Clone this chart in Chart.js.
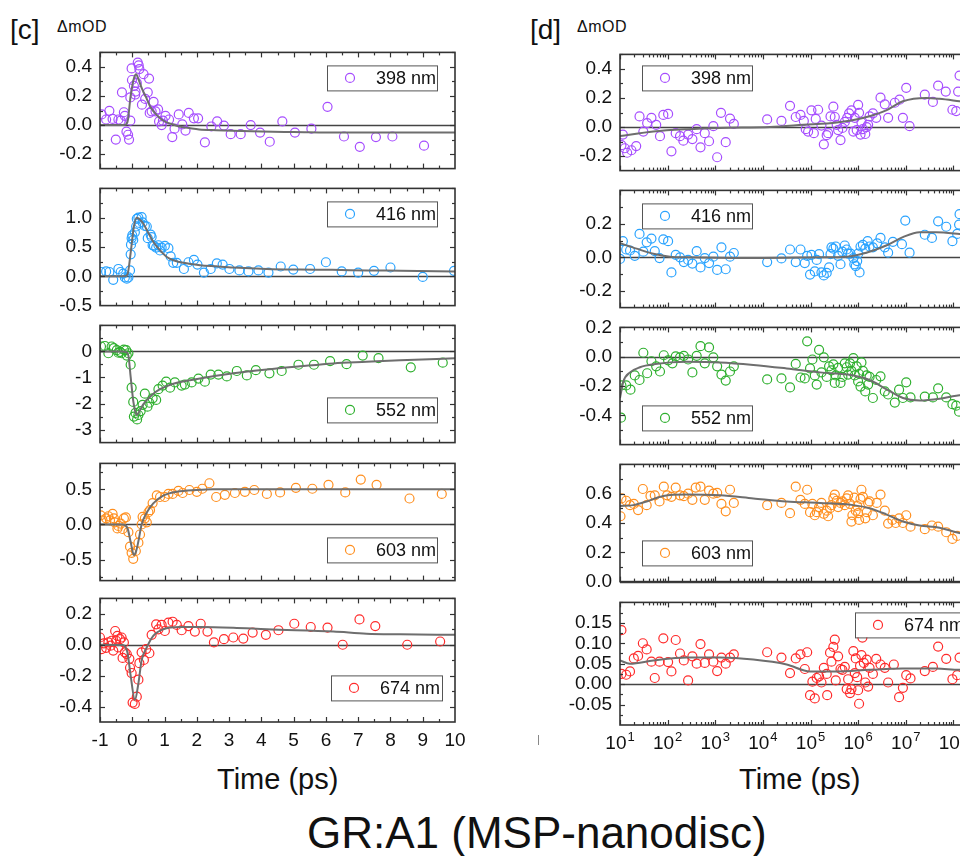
<!DOCTYPE html>
<html>
<head>
<meta charset="utf-8">
<script src="https://cdn.jsdelivr.net/npm/chart.js@4.4.1/dist/chart.umd.min.js"></script>
<style>
  html, body { margin:0; padding:0; background:#fff; overflow:hidden; }
  #wrap { position:relative; width:960px; height:856px; overflow:hidden; font-family:'Liberation Sans', Arial, sans-serif; color:#111; }
  .lbl { position:absolute; white-space:nowrap; line-height:1; }
</style>
</head>
<body>
<div id="wrap">
  <div class="lbl" style="left:10px;top:16px;font-size:28px">[c]</div>
  <div class="lbl" style="left:57px;top:19px;font-size:16px;letter-spacing:0.5px">ΔmOD</div>
  <div class="lbl" style="left:530px;top:16px;font-size:28px">[d]</div>
  <div class="lbl" style="left:577px;top:19px;font-size:16px;letter-spacing:0.5px">ΔmOD</div>
  <div class="lbl" style="left:217px;top:765px;font-size:29px">Time (ps)</div>
  <div class="lbl" style="left:739px;top:765px;font-size:29px">Time (ps)</div>
  <div class="lbl" style="left:307px;top:811px;font-size:44px">GR:A1 (MSP-nanodisc)</div>
  <div style="position:absolute;left:538px;top:735px;width:1px;height:10px;background:#888"></div>
</div>
<script>
// ── Axis ticks ───────────────────────────────────────────────
const cXTicks = [-1,0,1,2,3,4,5,6,7,8,9,10];
const dXTicks = [1e1,1e2,1e3,1e4,1e5,1e6,1e7,1e8];
const dXExp   = ['1','2','3','4','5','6','7','8'];

const c398YTicks = [-0.2,0,0.2,0.4];
const c416YTicks = [-0.5,0,0.5,1.0];
const c552YTicks = [-3,-2,-1,0];
const c603YTicks = [-0.5,0,0.5];
const c674YTicks = [-0.4,-0.2,0,0.2];
const d398YTicks = [-0.2,0,0.2,0.4];
const d416YTicks = [-0.2,0,0.2];
const d552YTicks = [-0.4,-0.2,0,0.2];
const d603YTicks = [0,0.2,0.4,0.6];
const d674YTicks = [-0.05,0,0.05,0.1,0.15];

const waves = ['398 nm','416 nm','552 nm','603 nm','674 nm'];

// ── [c] linear time (ps) ─────────────────────────────────────
const c398X = [-0.95,-0.81,-0.71,-0.61,-0.51,-0.43,-0.32,-0.36,-0.26,-0.23,-0.18,-0.13,-0.10,-0.06,-0.06,-0.02,-0.01,0.05,0.09,0.10,0.14,0.17,0.20,0.22,0.30,0.35,0.40,0.48,0.52,0.54,0.66,0.60,0.72,0.80,0.83,0.91,0.95,1.03,1.14,1.24,1.31,1.44,1.55,1.65,1.75,1.91,2.04,2.25,2.45,2.63,2.84,3.05,3.36,3.67,3.96,4.26,4.65,5.04,5.55,6.05,6.56,7.05,7.55,8.06,9.04];
const c398Y = [0.073,0.038,0.098,0.042,-0.100,0.038,0.225,0.030,0.088,0.063,-0.046,-0.067,-0.100,0.030,0.190,0.390,0.310,0.270,0.210,0.230,0.290,0.430,0.410,0.385,0.140,0.350,0.180,0.225,0.320,0.083,0.160,0.094,0.094,0.108,0.025,0.000,0.030,0.063,0.038,-0.083,-0.025,0.073,0.004,-0.038,0.083,0.046,0.046,-0.119,-0.010,0.025,-0.004,-0.063,-0.063,0.000,-0.052,-0.115,0.025,-0.052,-0.025,0.125,-0.079,-0.150,-0.083,-0.079,-0.142];
const c398FitX = [-1,-0.25,-0.15,-0.05,0.05,0.12,0.2,0.3,0.43,0.55,0.74,0.9,1.05,1.25,1.46,1.8,2.07,2.6,3.1,4.0,5.0,6.5,8.0,10];
const c398FitY = [0,0,0.02,0.2,0.32,0.35,0.31,0.25,0.19,0.13,0.073,0.04,0.02,0.005,-0.01,-0.022,-0.03,-0.036,-0.04,-0.045,-0.048,-0.052,-0.052,-0.052];

const c416X = [-0.97,-0.81,-0.71,-0.59,-0.43,-0.36,-0.28,-0.23,-0.17,-0.12,-0.07,-0.05,-0.04,-0.02,0.00,0.03,0.08,0.12,0.14,0.19,0.22,0.29,0.32,0.39,0.45,0.48,0.57,0.60,0.63,0.67,0.74,0.81,0.86,0.91,1.01,1.12,1.19,1.27,1.38,1.60,1.74,1.91,2.02,2.22,2.43,2.62,2.80,3.01,3.32,3.60,3.91,4.22,4.60,4.99,5.51,6.00,6.49,7.00,7.49,8.00,9.00,9.97];
const c416Y = [0.073,0.083,0.073,-0.060,0.125,0.073,0.047,-0.020,-0.040,-0.020,0.100,0.375,0.540,0.650,0.700,0.620,0.750,0.850,0.980,1.000,0.910,1.010,0.920,0.860,0.850,0.650,0.710,0.670,0.530,0.520,0.490,0.530,0.440,0.490,0.520,0.480,0.340,0.230,0.230,0.125,0.240,0.280,0.200,0.063,0.125,0.220,0.200,0.125,0.100,0.083,0.100,0.063,0.167,0.115,0.125,0.240,0.083,0.063,0.094,0.150,-0.010,0.094];
const c416FitX = [-1,-0.25,-0.15,-0.05,0.05,0.14,0.25,0.34,0.5,0.65,0.85,1.07,1.3,1.58,2.1,2.6,3.13,4.17,5.2,6.2,7.3,8.3,10];
const c416FitY = [0,0,0.03,0.4,0.85,1.0,0.96,0.9,0.74,0.59,0.45,0.33,0.27,0.23,0.19,0.17,0.15,0.125,0.115,0.11,0.1,0.095,0.083];

const c552X = [-0.97,-0.85,-0.74,-0.64,-0.57,-0.48,-0.43,-0.38,-0.33,-0.26,-0.19,-0.17,-0.12,-0.05,-0.02,0.03,0.05,0.10,0.15,0.19,0.26,0.32,0.39,0.47,0.53,0.63,0.74,0.81,0.94,1.05,1.17,1.32,1.53,1.63,1.84,2.05,2.25,2.43,2.67,2.93,3.24,3.55,3.83,4.25,4.63,5.15,5.63,6.13,6.64,7.14,7.63,8.63,9.62];
const c552Y = [0.19,0.21,-0.07,0.19,0.13,0.05,-0.05,-0.02,-0.07,0.07,0.05,-0.16,-0.07,-0.51,-1.39,-1.94,-2.50,-2.36,-2.61,-2.44,-2.29,-2.05,-1.62,-2.12,-1.97,-1.80,-1.86,-1.45,-1.31,-1.16,-1.39,-1.19,-1.31,-1.27,-1.19,-1.04,-1.16,-0.89,-0.89,-0.96,-0.75,-0.92,-0.72,-0.84,-0.75,-0.51,-0.51,-0.37,-0.49,-0.16,-0.26,-0.61,-0.43];
const c552FitX = [-1,-0.3,-0.2,-0.12,-0.05,0.03,0.09,0.14,0.22,0.34,0.6,0.86,1.27,2.1,3.13,4.17,5.2,6.23,7.26,8.3,10];
const c552FitY = [0,0,-0.02,-0.16,-0.98,-1.9,-2.3,-2.44,-2.3,-2.03,-1.68,-1.45,-1.24,-1.04,-0.84,-0.69,-0.57,-0.46,-0.4,-0.34,-0.26];

const c603X = [-0.98,-0.92,-0.81,-0.74,-0.69,-0.61,-0.57,-0.54,-0.46,-0.43,-0.36,-0.30,-0.26,-0.20,-0.12,-0.07,-0.02,0.03,0.11,0.19,0.24,0.29,0.32,0.39,0.45,0.50,0.55,0.63,0.76,0.86,1.01,1.12,1.25,1.43,1.56,1.77,2.00,2.17,2.39,2.60,2.87,3.18,3.49,3.78,4.17,4.58,5.07,5.58,6.08,6.60,7.08,7.57,8.59,9.59];
const c603Y = [0.130,0.057,0.087,0.117,0.057,0.152,0.087,0.030,-0.057,-0.022,0.013,-0.065,0.087,0.100,-0.110,-0.317,-0.404,-0.490,-0.378,-0.260,-0.143,0.000,0.109,0.087,0.030,0.174,0.204,0.304,0.413,0.391,0.391,0.435,0.435,0.478,0.448,0.491,0.465,0.509,0.587,0.391,0.422,0.448,0.465,0.491,0.435,0.457,0.522,0.509,0.565,0.457,0.639,0.565,0.370,0.435];
const c603FitX = [-1,-0.3,-0.15,-0.05,0.05,0.12,0.19,0.29,0.45,0.65,0.96,1.38,2.0,2.5,4,6,8,10];
const c603FitY = [0,0,-0.05,-0.25,-0.435,-0.38,-0.24,0,0.17,0.3,0.41,0.465,0.49,0.5,0.5,0.5,0.5,0.5];

const c674X = [-1.00,-0.95,-0.88,-0.81,-0.74,-0.67,-0.64,-0.59,-0.53,-0.50,-0.46,-0.43,-0.38,-0.33,-0.30,-0.26,-0.23,-0.17,-0.09,-0.07,-0.02,0.01,0.08,0.14,0.19,0.22,0.29,0.36,0.43,0.53,0.60,0.74,0.81,0.91,1.01,1.12,1.25,1.38,1.53,1.74,1.94,2.12,2.33,2.53,2.84,3.13,3.44,3.73,4.14,4.53,5.02,5.53,6.05,6.52,7.04,7.53,8.52,9.54];
const c674Y = [0.047,-0.028,0.009,-0.020,0.015,-0.006,0.026,-0.038,0.089,0.026,0.057,-0.017,0.036,0.047,-0.085,0.015,-0.049,-0.060,-0.091,-0.149,-0.183,-0.374,-0.383,-0.336,-0.226,-0.119,-0.049,-0.098,-0.028,-0.055,0.064,0.132,0.100,0.128,0.089,0.143,0.149,0.128,0.094,0.121,0.085,0.136,0.085,0.015,0.036,0.047,0.040,0.079,0.064,0.094,0.136,0.115,0.111,0.000,0.164,0.121,0.000,0.021];
const c674FitX = [-1,-0.3,-0.15,-0.05,0.08,0.19,0.29,0.45,0.65,0.96,1.48,2.1,3.13,4.17,6.23,7.26,8.3,10];
const c674FitY = [0,-0.002,-0.05,-0.2,-0.357,-0.25,-0.1,-0.017,0.057,0.1,0.115,0.115,0.11,0.1,0.085,0.072,0.068,0.064];

// ── [d] log time, stored as log10(t / ps) ───────────────────
const d398E = [1.06,1.03,1.10,1.15,1.24,1.34,1.41,1.49,1.57,1.66,1.76,1.84,1.91,2.01,2.08,2.17,2.26,2.33,2.43,2.52,2.61,2.69,2.78,2.87,2.96,3.04,3.12,3.22,3.31,3.39,4.09,4.39,4.57,4.69,4.79,4.86,4.90,4.95,5.02,5.07,5.11,5.16,5.23,5.28,5.34,5.37,5.42,5.48,5.51,5.55,5.58,5.63,5.67,5.72,5.77,5.81,5.86,5.90,5.93,5.97,6.00,6.02,6.05,6.07,6.10,6.15,6.18,6.21,6.24,6.31,6.38,6.47,6.56,6.63,6.77,6.87,6.94,7.01,7.08,7.40,7.57,7.68,7.84,7.98,8.06,8.10,8.13];
const d398Y = [-0.052,-0.125,-0.146,-0.177,-0.160,-0.131,0.073,-0.031,0.027,0.063,0.015,-0.063,0.083,0.090,-0.167,-0.042,-0.063,-0.094,-0.052,-0.083,-0.015,-0.140,-0.042,-0.098,0.006,-0.208,0.098,-0.104,0.058,0.021,0.052,0.042,0.146,0.069,0.083,0.042,-0.015,-0.031,0.115,-0.042,0.056,0.119,0.010,-0.119,-0.056,-0.042,0.073,0.140,0.069,0.015,-0.021,-0.090,-0.006,0.035,0.063,0.094,0.115,-0.031,0.063,-0.021,0.152,0.098,-0.052,0.031,-0.015,-0.048,0.000,0.015,0.073,0.094,0.063,0.202,0.156,0.063,0.167,0.188,0.063,0.270,0.006,0.223,0.173,0.285,0.244,0.119,0.110,0.244,0.354];
const d398FitE = [1.0,1.7,2.4,3.1,4.15,4.85,5.55,6.1,6.59,6.94,7.43,7.71,8.13,8.3];
const d398FitY = [-0.0625,-0.031,-0.015,-0.006,0,0.015,0.031,0.0625,0.115,0.177,0.2,0.194,0.177,0.17];

const d416E = [1.00,1.06,1.13,1.21,1.31,1.41,1.49,1.56,1.66,1.73,1.83,1.91,2.01,2.08,2.17,2.26,2.34,2.43,2.52,2.61,2.69,2.78,2.87,2.96,3.04,3.13,3.22,3.31,3.39,4.09,4.39,4.57,4.69,4.79,4.88,4.93,4.99,5.02,5.09,5.13,5.18,5.23,5.28,5.34,5.39,5.42,5.44,5.48,5.53,5.58,5.63,5.67,5.72,5.76,5.79,5.84,5.90,5.92,5.95,5.98,6.00,6.03,6.05,6.10,6.15,6.20,6.24,6.31,6.40,6.47,6.56,6.63,6.73,6.92,6.99,7.08,7.40,7.55,7.68,7.85,7.98,8.08,8.12,8.13];
const d416Y = [-0.009,0.097,0.047,0.041,0.009,0.140,0.034,0.090,0.112,0.037,-0.004,0.108,0.097,-0.090,0.015,0.000,-0.028,-0.015,-0.037,0.037,-0.060,-0.004,-0.034,0.004,-0.075,0.060,-0.071,0.004,0.026,-0.028,-0.006,0.047,-0.028,0.047,-0.034,0.009,-0.103,0.015,-0.084,-0.015,0.019,-0.090,-0.108,-0.093,-0.060,0.019,0.060,0.052,0.065,0.009,-0.041,0.034,0.071,0.047,0.022,0.022,-0.004,-0.041,-0.052,-0.022,0.022,-0.090,0.065,0.075,0.052,0.097,0.065,0.060,0.084,0.116,0.060,0.028,0.093,0.079,0.220,0.028,0.135,0.116,0.215,0.183,0.097,0.140,0.196,0.258];
const d416FitE = [1.0,1.35,1.7,2.05,2.4,3.8,5.2,5.76,6.17,6.59,6.94,7.29,7.64,8.13,8.3];
const d416FitY = [0.084,0.052,0.022,0.004,0,-0.004,0,0.004,0.028,0.071,0.121,0.15,0.15,0.14,0.135];

const d552E = [1.02,1.03,1.13,1.22,1.31,1.41,1.49,1.57,1.66,1.76,1.84,1.92,2.01,2.10,2.17,2.26,2.34,2.43,2.52,2.61,2.69,2.78,2.87,2.96,3.04,3.13,3.22,3.31,3.39,4.09,4.39,4.57,4.69,4.79,4.88,4.93,4.99,5.04,5.09,5.13,5.18,5.23,5.28,5.34,5.39,5.44,5.48,5.51,5.53,5.58,5.63,5.67,5.72,5.76,5.79,5.83,5.86,5.90,5.93,5.97,6.00,6.02,6.05,6.07,6.10,6.15,6.18,6.21,6.24,6.31,6.38,6.47,6.56,6.63,6.77,6.86,6.94,7.01,7.10,7.40,7.57,7.68,7.85,7.98,8.06,8.12];
const d552Y = [-0.416,-0.196,-0.196,-0.225,-0.128,-0.159,0.027,-0.113,-0.031,-0.066,-0.101,0.010,-0.025,-0.045,0.002,-0.004,0.006,-0.019,-0.107,0.006,0.072,-0.045,0.064,-0.004,-0.066,-0.122,-0.163,-0.101,-0.066,-0.155,-0.148,-0.210,-0.049,-0.142,-0.148,0.105,-0.080,-0.019,-0.128,-0.190,0.047,-0.107,-0.004,-0.138,-0.066,-0.093,-0.052,-0.179,-0.128,-0.076,-0.179,-0.138,-0.045,-0.072,-0.122,-0.045,-0.097,-0.010,-0.128,-0.066,-0.169,-0.118,-0.204,-0.039,-0.097,-0.237,-0.128,-0.190,-0.138,-0.282,-0.159,-0.134,-0.237,-0.258,-0.313,-0.225,-0.282,-0.175,-0.278,-0.272,-0.278,-0.216,-0.278,-0.324,-0.334,-0.375];
const d552FitE = [1.0,1.07,1.21,1.42,1.7,2.4,3.1,3.8,4.5,5.2,5.9,6.24,6.59,6.94,7.29,7.71,8.06,8.3];
const d552FitY = [-0.282,-0.17,-0.107,-0.072,-0.052,-0.035,-0.039,-0.056,-0.08,-0.107,-0.128,-0.159,-0.221,-0.282,-0.299,-0.287,-0.266,-0.26];

const d603E = [1.01,1.03,1.13,1.21,1.29,1.38,1.48,1.56,1.64,1.73,1.83,1.92,1.99,2.08,2.17,2.26,2.34,2.43,2.52,2.59,2.69,2.78,2.87,2.96,3.04,3.13,3.22,3.31,3.39,4.09,4.39,4.57,4.69,4.79,4.88,4.93,4.99,5.04,5.09,5.13,5.18,5.23,5.28,5.34,5.37,5.41,5.44,5.48,5.51,5.55,5.58,5.63,5.67,5.72,5.76,5.79,5.83,5.86,5.88,5.92,5.95,5.98,6.00,6.02,6.05,6.07,6.10,6.15,6.18,6.21,6.24,6.31,6.39,6.47,6.56,6.63,6.72,6.79,6.86,6.94,7.01,7.10,7.40,7.55,7.68,7.85,7.98,8.08];
const d603Y = [0.446,0.568,0.552,0.522,0.530,0.488,0.632,0.522,0.585,0.589,0.547,0.648,0.589,0.579,0.642,0.589,0.583,0.600,0.558,0.642,0.648,0.558,0.621,0.600,0.606,0.530,0.480,0.627,0.537,0.522,0.537,0.467,0.648,0.558,0.530,0.627,0.474,0.530,0.453,0.474,0.509,0.537,0.463,0.484,0.446,0.501,0.522,0.568,0.594,0.552,0.509,0.537,0.547,0.522,0.568,0.589,0.530,0.410,0.453,0.573,0.484,0.516,0.467,0.421,0.564,0.627,0.579,0.432,0.474,0.537,0.547,0.453,0.537,0.594,0.484,0.396,0.421,0.400,0.432,0.400,0.453,0.375,0.358,0.383,0.375,0.337,0.291,0.312];
const d603FitE = [1.0,1.28,1.56,1.91,2.4,3.1,3.8,4.5,5.2,5.9,6.24,6.59,6.94,7.29,7.71,8.06,8.3];
const d603FitY = [0.516,0.522,0.547,0.585,0.594,0.589,0.568,0.547,0.537,0.522,0.501,0.459,0.41,0.383,0.368,0.337,0.32];

const d674E = [1.03,1.03,1.13,1.21,1.29,1.38,1.48,1.56,1.66,1.73,1.83,1.91,2.01,2.08,2.17,2.26,2.34,2.43,2.52,2.61,2.69,2.78,2.87,2.96,3.04,3.13,3.22,3.31,3.39,4.09,4.39,4.57,4.69,4.79,4.88,4.93,4.99,5.04,5.09,5.13,5.18,5.23,5.28,5.34,5.35,5.41,5.44,5.48,5.51,5.53,5.58,5.63,5.67,5.72,5.76,5.79,5.83,5.86,5.90,5.93,5.95,5.98,6.00,6.02,6.04,6.07,6.09,6.12,6.15,6.18,6.21,6.24,6.31,6.38,6.47,6.56,6.63,6.75,6.86,6.94,7.01,7.10,7.40,7.57,7.68,7.85,7.98,8.08,8.13];
const d674Y = [0.132,0.025,0.023,0.031,0.063,0.069,0.100,0.085,0.055,0.015,0.055,0.112,0.054,0.031,0.108,0.075,0.058,0.009,0.068,0.050,0.098,0.052,0.073,0.055,0.032,0.065,0.050,0.065,0.073,0.078,0.065,0.027,0.063,0.073,0.037,0.078,-0.027,0.006,-0.035,0.015,0.019,0.004,0.040,0.025,-0.027,0.077,0.055,0.091,0.109,0.009,0.068,0.037,0.035,0.042,-0.012,0.012,-0.022,-0.012,0.081,0.027,0.063,0.017,-0.015,-0.048,0.045,0.071,0.114,0.052,0.004,0.060,-0.006,0.040,0.025,0.062,0.048,0.040,0.004,0.048,-0.032,-0.009,0.022,0.014,0.032,0.042,0.092,0.062,0.012,0.022,0.065];
const d674FitE = [1.0,1.21,1.7,2.4,3.1,3.8,4.5,4.99,5.55,6.24,6.94,7.64,8.13,8.3];
const d674FitY = [0.058,0.05,0.058,0.065,0.065,0.06,0.048,0.031,0.031,0.035,0.038,0.038,0.035,0.035];

// ── Styles ───────────────────────────────────────────────────
const COL = { '398 nm':'#a64dff', '416 nm':'#29a3ff', '552 nm':'#2fb02f', '603 nm':'#ff8f1f', '674 nm':'#ff2b2b' };
const FIT = '#6e6e6e';
const FONT = "'Liberation Sans', Arial, sans-serif";
const TICK_PX = 19;
Chart.defaults.font.family = FONT;
Chart.defaults.color = '#111';

const pts    = (xs, ys) => xs.map((x, i) => ({ x, y: ys[i] }));
const ptsLog = (es, ys) => es.map((e, i) => ({ x: 10 ** e, y: ys[i] }));

function stepTicks(min, max, step, skip) {
  const out = [];
  for (let k = Math.ceil(min / step - 1e-9); k * step <= max + 1e-9; k++) {
    const v = +(k * step).toFixed(6);
    if (!skip.some(m => Math.abs(m - v) < 1e-9)) out.push(v);
  }
  return out;
}

const logMinor = [];
dXTicks.concat([1e9]).forEach(d => { for (let k = 2; k <= 9; k++) if (k * d < 1e9) logMinor.push(k * d); });

const colC = { left:0,   width:470, padR:15, xType:'linear',      xMin:-1, xMax:10,
               xMajor:cXTicks, xMinor:stepTicks(-1, 10, 0.5, cXTicks),
               xLabels:cXTicks.map(v => ({ v, t:String(v) })) };
const colD = { left:520, width:500, padR:19, xType:'logarithmic', xMin:10, xMax:1e9,
               xMajor:dXTicks.concat([1e9]), xMinor:logMinor,
               xLabels:dXTicks.map((v, i) => ({ v, t:'10', sup:dXExp[i] })) };

const panels = [
  { col:colC, area:[47,174],      yMin:-0.3, yMax:0.5,  yTicks:c398YTicks, yStep:0.1,  dec:1, w:waves[0], pts:pts(c398X,c398Y), fit:pts(c398FitX,c398FitY), lg:{dx:227,dy:13} },
  { col:colC, area:[183.3,311.7], yMin:-0.5, yMax:1.5,  yTicks:c416YTicks, yStep:0.25, dec:1, w:waves[1], pts:pts(c416X,c416Y), fit:pts(c416FitX,c416FitY), lg:{dx:227,dy:13} },
  { col:colC, area:[320,448.3],   yMin:-3.5, yMax:1.0,  yTicks:c552YTicks, yStep:0.5,  dec:0, w:waves[2], pts:pts(c552X,c552Y), fit:pts(c552FitX,c552FitY), lg:{dx:227,dy:72} },
  { col:colC, area:[458.3,586],   yMin:-0.8, yMax:0.87, yTicks:c603YTicks, yStep:0.25, dec:1, w:waves[3], pts:pts(c603X,c603Y), fit:pts(c603FitX,c603FitY), lg:{dx:227,dy:74} },
  { col:colC, area:[593.3,722.3], yMin:-0.5, yMax:0.3,  yTicks:c674YTicks, yStep:0.1,  dec:1, w:waves[4], pts:pts(c674X,c674Y), fit:pts(c674FitX,c674FitY), lg:{dx:231,dy:77,w:111}, bottom:true },
  { col:colD, area:[49.3,176.7],  yMin:-0.3, yMax:0.5,  yTicks:d398YTicks, yStep:0.1,  dec:1, w:waves[0], pts:ptsLog(d398E,d398Y), fit:ptsLog(d398FitE,d398FitY), lg:{dx:22,dy:11} },
  { col:colD, area:[185,313.3],   yMin:-0.3, yMax:0.4,  yTicks:d416YTicks, yStep:0.1,  dec:1, w:waves[1], pts:ptsLog(d416E,d416Y), fit:ptsLog(d416FitE,d416FitY), lg:{dx:22,dy:13} },
  { col:colD, area:[322.3,450],   yMin:-0.6, yMax:0.2,  yTicks:d552YTicks, yStep:0.1,  dec:1, w:waves[2], pts:ptsLog(d552E,d552Y), fit:ptsLog(d552FitE,d552FitY), lg:{dx:22,dy:78} },
  { col:colD, area:[459.3,587.3], yMin:0,    yMax:0.8,  yTicks:d603YTicks, yStep:0.1,  dec:1, w:waves[3], pts:ptsLog(d603E,d603Y), fit:ptsLog(d603FitE,d603FitY), lg:{dx:22,dy:76} },
  { col:colD, area:[596.7,724.3], yMin:-0.1, yMax:0.2,  yTicks:d674YTicks, yStep:0.025,dec:2, w:waves[4], pts:ptsLog(d674E,d674Y), fit:ptsLog(d674FitE,d674FitY), lg:{dx:235,dy:10}, bottom:true },
];

// ── Frame / ticks / legend (Origin-style inward ticks) ───────
const framePlugin = {
  id: 'frame',
  beforeDatasetsDraw(chart) {
    const { ctx, chartArea: a, scales: { y } } = chart;
    if (y.min > 0 || y.max < 0) return;
    const py = Math.round(y.getPixelForValue(0)) + 0.5;
    ctx.save();
    ctx.strokeStyle = '#444'; ctx.lineWidth = 1.5;
    ctx.beginPath(); ctx.moveTo(a.left, py); ctx.lineTo(a.right, py); ctx.stroke();
    ctx.restore();
  },
  afterDraw(chart, _args, o) {
    const { ctx, chartArea: a, scales: { x, y } } = chart;
    const seg = (x1, y1, x2, y2) => { ctx.beginPath(); ctx.moveTo(x1, y1); ctx.lineTo(x2, y2); ctx.stroke(); };
    ctx.save();
    ctx.strokeStyle = '#333'; ctx.lineWidth = 1.2;
    const xt = (vals, len) => vals.forEach(v => {
      const px = Math.round(x.getPixelForValue(v)) + 0.5;
      if (px < a.left || px > a.right) return;
      seg(px, a.bottom, px, a.bottom - len); seg(px, a.top, px, a.top + len);
    });
    const yt = (vals, len) => vals.forEach(v => {
      const py = Math.round(y.getPixelForValue(v)) + 0.5;
      if (py < a.top || py > a.bottom) return;
      seg(a.left, py, a.left + len, py); seg(a.right, py, a.right - len, py);
    });
    xt(o.xMajor, 5); xt(o.xMinor, 3);
    yt(o.yMajor, 5); yt(o.yMinor, 3);
    ctx.lineWidth = 1.6;
    ctx.strokeRect(a.left, a.top, a.right - a.left, a.bottom - a.top);

    // legend box
    const bx = a.left + o.lg.dx, by = a.top + o.lg.dy, bw = o.lg.w || 110, bh = 25;
    ctx.fillStyle = '#fff'; ctx.fillRect(bx, by, bw, bh);
    ctx.strokeStyle = '#555'; ctx.lineWidth = 1; ctx.strokeRect(bx + 0.5, by + 0.5, bw, bh);
    ctx.strokeStyle = o.color; ctx.lineWidth = 1.2;
    ctx.beginPath(); ctx.arc(bx + 23, by + 12.5, 4.5, 0, Math.PI * 2); ctx.stroke();
    ctx.fillStyle = '#111'; ctx.font = `18px ${FONT}`; ctx.textBaseline = 'middle'; ctx.textAlign = 'left';
    ctx.fillText(o.label, bx + 49, by + 13.5);

    // x tick labels on the bottom panel only
    if (o.xLabels) {
      const ly = a.bottom + 19;
      o.xLabels.forEach(l => {
        const px = x.getPixelForValue(l.v);
        ctx.font = `${TICK_PX}px ${FONT}`;
        const w1 = ctx.measureText(l.t).width;
        let w2 = 0;
        if (l.sup) { ctx.font = `13px ${FONT}`; w2 = ctx.measureText(l.sup).width + 1; }
        const x0 = px - (w1 + w2) / 2;
        ctx.font = `${TICK_PX}px ${FONT}`; ctx.textAlign = 'left'; ctx.textBaseline = 'middle';
        ctx.fillText(l.t, x0, ly);
        if (l.sup) { ctx.font = `13px ${FONT}`; ctx.fillText(l.sup, x0 + w1 + 1, ly - 7); }
      });
    }
    ctx.restore();
  }
};

// ── Build panels ─────────────────────────────────────────────
const wrap = document.getElementById('wrap');
const PAD = 14;

panels.forEach(p => {
  const c = p.col;
  const areaH = p.area[1] - p.area[0];
  const padB = PAD + (p.bottom ? 30 : 0);
  const h = Math.round(areaH + PAD + padB);
  const cv = document.createElement('canvas');
  cv.width = c.width; cv.height = h;
  cv.style.cssText = `position:absolute;left:${c.left}px;top:${p.area[0] - PAD}px;width:${c.width}px;height:${h}px`;
  wrap.appendChild(cv);

  new Chart(cv, {
    type: 'scatter',
    data: { datasets: [
      { type:'line', data:p.fit, borderColor:FIT, borderWidth:2, pointRadius:0, fill:false,
        cubicInterpolationMode:'monotone', order:1 },
      { data:p.pts, pointStyle:'circle', pointRadius:4.5, borderWidth:1.2,
        borderColor:COL[p.w], backgroundColor:'rgba(0,0,0,0)', order:2 },
    ]},
    options: {
      responsive:false, animation:false, events:[],
      layout: { padding: { top:PAD, bottom:padB, left:0, right:c.padR } },
      plugins: {
        legend:{ display:false }, tooltip:{ enabled:false },
        frame: {
          xMajor:c.xMajor, xMinor:c.xMinor,
          yMajor:p.yTicks, yMinor:stepTicks(p.yMin, p.yMax, p.yStep, p.yTicks),
          lg:p.lg, color:COL[p.w], label:p.w,
          xLabels: p.bottom ? c.xLabels : null,
        },
      },
      scales: {
        x: { type:c.xType, min:c.xMin, max:c.xMax, display:false },
        y: {
          min:p.yMin, max:p.yMax,
          grid:{ display:false, drawTicks:false }, border:{ display:false },
          ticks:{ padding:8, font:{ size:TICK_PX }, color:'#111', callback:v => (+v).toFixed(p.dec) },
          afterBuildTicks: s => { s.ticks = p.yTicks.map(v => ({ value:v })); },
          afterFit: s => { s.width = 100; },
        },
      },
    },
    plugins: [framePlugin],
  });
});
</script>
</body>
</html>
